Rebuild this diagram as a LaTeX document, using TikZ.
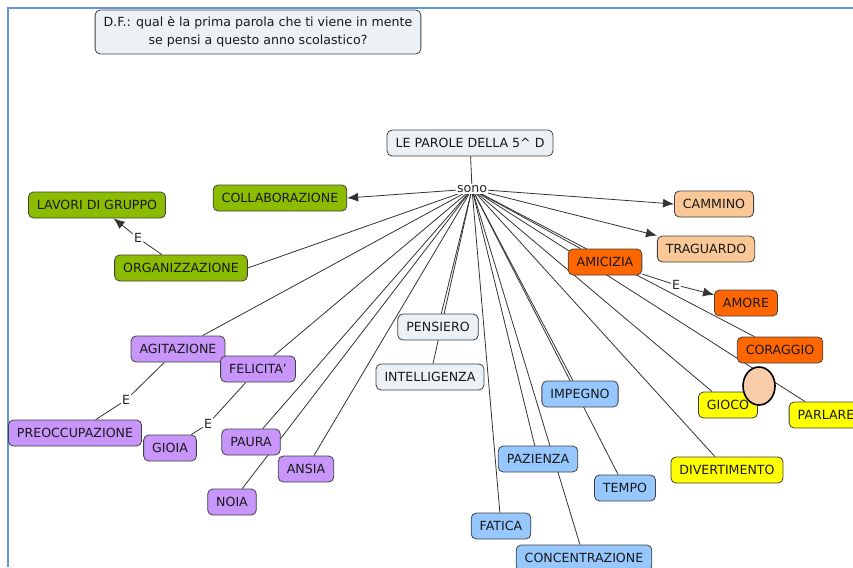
\documentclass[tikz,border=0pt]{standalone}
\usepackage{fontspec}
\setmainfont{DejaVu Sans}
\usetikzlibrary{arrows.meta,shapes.geometric}
\pgfdeclarelayer{bg}
\pgfsetlayers{bg,main}
\definecolor{cgray}{RGB}{236,241,245}
\definecolor{cgreen}{RGB}{140,188,0}
\definecolor{clight}{RGB}{250,200,150}
\definecolor{corange}{RGB}{255,102,0}
\definecolor{cyellow}{RGB}{255,255,0}
\definecolor{cblue}{RGB}{150,200,255}
\definecolor{cpurple}{RGB}{200,150,250}
\definecolor{cpeach}{RGB}{250,205,170}
\definecolor{cframe}{RGB}{100,150,215}
\tikzset{
  concept/.style={draw=black!75, line width=0.8pt, rounded corners=5pt,
    minimum height=26pt, inner xsep=8.5pt, text=black!90,
    font=\fontsize{12.6}{18}\selectfont},
  link/.style={fill=white, inner sep=1pt, text=black!85,
    font=\fontsize{12.6}{14}\selectfont},
  conn/.style={draw=black!80, line width=0.8pt},
  arr/.style={conn, -{Latex[length=11pt,width=9pt]}}
}
\begin{document}
\begin{tikzpicture}[x=1pt,y=-1pt]
\clip (0,0) rectangle (853,567);
\draw[cframe, line width=1.8pt] (8,567) -- (8,8) -- (853,8);
% domanda e radice
\node[concept, fill=cgray, align=center, minimum height=44pt] (domanda) at (258,32)
  {D.F.: qual è la prima parola che ti viene in mente\\se pensi a questo anno scolastico?};
\node[concept, fill=cgray] (root) at (470,143) {LE PAROLE DELLA 5\textasciicircum\ D};
\node[link] (sono) at (472,189) {sono};
% verdi
\node[concept, fill=cgreen] (lavori) at (97,205) {LAVORI DI GRUPPO};
\node[concept, fill=cgreen] (collab) at (280,198) {COLLABORAZIONE};
\node[concept, fill=cgreen] (org) at (181,268) {ORGANIZZAZIONE};
\node[link] (e1) at (138,238) {E};
% arancio
\node[concept, fill=clight] (cammino) at (714,204) {CAMMINO};
\node[concept, fill=clight] (traguardo) at (706,249) {TRAGUARDO};
\node[concept, fill=corange] (amic) at (605,262) {AMICIZIA};
\node[concept, fill=corange] (amore) at (746,303) {AMORE};
\node[concept, fill=corange] (corag) at (780,350) {CORAGGIO};
\node[link] (e2) at (676,285) {E};
% gialli
\node[concept, fill=cyellow] (gioco) at (728,405) {GIOCO};
\node[concept, fill=cyellow] (parlare) at (826,415) {PARLARE};
\node[concept, fill=cyellow] (divert) at (727,470) {DIVERTIMENTO};
\node[ellipse, draw, line width=1.6pt, fill=cpeach, minimum width=32pt, minimum height=38pt] (dot) at (759,386) {};
% azzurri
\node[concept, fill=cblue] (imp) at (580,394) {IMPEGNO};
\node[concept, fill=cblue] (tempo) at (625,488) {TEMPO};
\node[concept, fill=cblue] (paz) at (538,459) {PAZIENZA};
\node[concept, fill=cblue] (fatica) at (501,526) {FATICA};
\node[concept, fill=cblue] (conc) at (584,558) {CONCENTRAZIONE};
% grigi
\node[concept, fill=cgray] (pens) at (438,327) {PENSIERO};
\node[concept, fill=cgray] (intel) at (430,377) {INTELLIGENZA};
% viola
\node[concept, fill=cpurple] (agit) at (178,349) {AGITAZIONE};
\node[concept, fill=cpurple] (felic) at (258,369) {FELICITA'};
\node[concept, fill=cpurple] (preocc) at (75,433) {PREOCCUPAZIONE};
\node[concept, fill=cpurple] (gioia) at (170,448) {GIOIA};
\node[concept, fill=cpurple] (paura) at (251,442) {PAURA};
\node[concept, fill=cpurple] (noia) at (232,502) {NOIA};
\node[concept, fill=cpurple] (ansia) at (306,469) {ANSIA};
\node[link] (e3) at (126,400) {E};
\node[link] (e4) at (208,424) {E};
% collegamenti
\begin{pgfonlayer}{bg}
\draw[conn] (root) -- (sono);
\draw[arr] (sono) -- (collab.east);
\draw[arr] (sono) -- (cammino.west);
\draw[arr] (sono) -- (traguardo.north west);
\draw[conn] (sono) -- (org.east);
\foreach \n in {agit,felic,paura,noia,ansia,pens,intel,fatica,paz,conc,imp,tempo,divert,gioco,parlare,corag,amic}
  \draw[conn] (sono) -- (\n);
\draw[conn] (org) -- (e1);
\draw[arr] (e1) -- (lavori);
\draw[conn] (amic) -- (e2);
\draw[arr] (e2) -- (amore);
\draw[conn] (agit) -- (e3) -- (preocc);
\draw[conn] (felic) -- (e4) -- (gioia);
\end{pgfonlayer}
\end{tikzpicture}
\end{document}
